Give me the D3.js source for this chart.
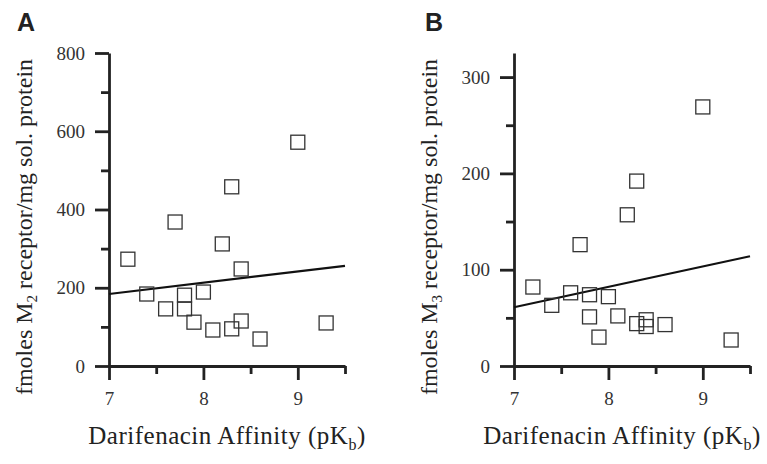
<!DOCTYPE html>
<html>
<head>
<meta charset="utf-8">
<script src="https://cdn.jsdelivr.net/npm/d3@7"></script>
<style>
  body { margin: 0; background: #fff; }
  svg { display: block; }
</style>
</head>
<body>
<div id="chart"></div>
<script>
// panel A (M2)
const xA = [9.0, 8.3, 7.7, 8.2, 7.2, 8.4, 7.4, 7.8, 8.0, 7.6, 7.8, 7.9, 8.1, 8.3, 8.4, 8.6, 9.3];
const yA = [572, 458, 368, 312, 273, 248, 184, 181, 189, 146, 146, 112, 92, 95, 115, 69, 110];
const fitA = [[7, 184], [9.5, 256]];
const yMajorA = [0, 200, 400, 600, 800];
const yMinorA = [100, 300, 500, 700];

// panel B (M3)
const xB = [9.0, 8.3, 8.2, 7.7, 7.2, 7.4, 7.6, 7.8, 8.0, 7.8, 8.1, 7.9, 8.3, 8.4, 8.4, 8.6, 9.3];
const yB = [269, 192, 157, 126, 82, 63, 76, 74, 72, 51, 52, 30, 44, 48, 41, 43, 27];
const fitB = [[7, 61], [9.5, 114]];
const yMajorB = [0, 100, 200, 300];
const yMinorB = [50, 150, 250];

const xMajor = [7, 8, 9];
const xMinor = [7.5, 8.5, 9.5];

const width = 767, height = 464;
const serif = "'Liberation Serif', 'Times New Roman', serif";
const svg = d3.select("#chart").append("svg")
  .attr("width", width)
  .attr("height", height);

const plotTop = 53, plotBottom = 366;

function styleAxis(a) {
  a.selectAll(".domain, .tick line")
    .style("stroke", "#222")
    .style("stroke-width", "2.8px");
  a.selectAll(".tick text")
    .style("font-family", serif)
    .style("font-size", "19px")
    .style("fill", "#333");
}

function drawPanel(p) {
  const x = d3.scaleLinear().domain([7, 9.5]).range([p.left, p.left + 236]);
  const y = d3.scaleLinear().domain([0, p.yMax]).range([plotBottom, plotTop]);
  const g = svg.append("g");

  // minor ticks
  g.append("g")
    .attr("transform", `translate(0,${plotBottom})`)
    .call(d3.axisBottom(x).tickValues(xMinor).tickSize(8).tickFormat(() => ""))
    .call(a => a.select(".domain").remove())
    .call(styleAxis);
  g.append("g")
    .attr("transform", `translate(${p.left},0)`)
    .call(d3.axisLeft(y).tickValues(p.yMinor).tickSize(8).tickFormat(() => ""))
    .call(a => a.select(".domain").remove())
    .call(styleAxis);

  // major axes
  g.append("g")
    .attr("transform", `translate(0,${plotBottom})`)
    .call(d3.axisBottom(x).tickValues(xMajor).tickSize(14).tickSizeOuter(0)
      .tickPadding(12).tickFormat(d3.format("d")))
    .call(styleAxis);
  g.append("g")
    .attr("transform", `translate(${p.left},0)`)
    .call(d3.axisLeft(y).tickValues(p.yMajor).tickSize(14).tickSizeOuter(0)
      .tickPadding(10).tickFormat(d3.format("d")))
    .call(styleAxis);

  // regression line
  g.append("path")
    .datum(p.fit)
    .attr("fill", "none")
    .attr("stroke", "#111")
    .attr("stroke-width", 2.2)
    .attr("d", d3.line().x(d => x(d[0])).y(d => y(d[1])));

  // points
  g.selectAll("rect.pt")
    .data(p.xs.map((v, i) => [v, p.ys[i]]))
    .join("rect")
    .attr("class", "pt")
    .attr("x", d => x(d[0]) - 7)
    .attr("y", d => y(d[1]) - 7)
    .attr("width", 14)
    .attr("height", 14)
    .attr("fill", "none")
    .attr("stroke", "#333")
    .attr("stroke-width", 1.3);

  // panel letter
  g.append("text")
    .attr("x", p.letterX)
    .attr("y", 31)
    .attr("font-family", "'Liberation Sans', Arial, sans-serif")
    .attr("font-weight", "bold")
    .attr("font-size", 25)
    .attr("fill", "#222")
    .text(p.letter);

  // y label
  const yl = g.append("text")
    .attr("transform", `translate(${p.yLabelX},227) rotate(-90)`)
    .attr("text-anchor", "middle")
    .attr("font-family", serif)
    .attr("font-size", 24)
    .attr("fill", "#222");
  yl.append("tspan").text("fmoles M");
  yl.append("tspan").attr("font-size", 15).attr("dy", 5).text(p.sub);
  yl.append("tspan").attr("dy", -5).text(" receptor/mg sol. protein");

  // x label
  const xl = g.append("text")
    .attr("x", p.xLabelX)
    .attr("y", 444)
    .attr("text-anchor", "middle")
    .attr("font-family", serif)
    .attr("font-size", 25)
    .attr("letter-spacing", 0.5)
    .attr("fill", "#222");
  xl.append("tspan").text("Darifenacin Affinity (pK");
  xl.append("tspan").attr("font-size", 16).attr("dy", 6).text("b");
  xl.append("tspan").attr("dy", -6).text(")");
}

drawPanel({ left: 109, yMax: 800, xs: xA, ys: yA, fit: fitA, yMajor: yMajorA, yMinor: yMinorA,
  letter: "A", letterX: 17, yLabelX: 32, xLabelX: 227, sub: "2" });
drawPanel({ left: 514, yMax: 325, xs: xB, ys: yB, fit: fitB, yMajor: yMajorB, yMinor: yMinorB,
  letter: "B", letterX: 425, yLabelX: 437, xLabelX: 622, sub: "3" });
</script>
</body>
</html>
